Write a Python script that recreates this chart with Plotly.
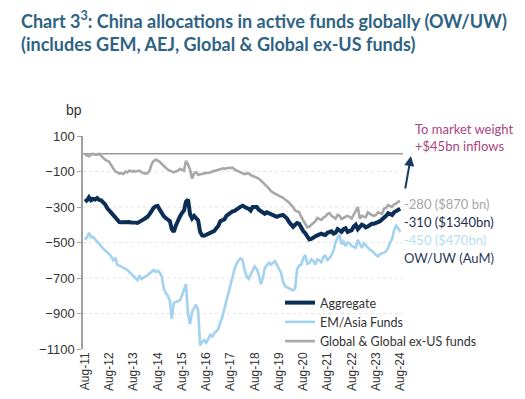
import pandas as pd
import plotly.graph_objects as go

# Monthly observations from Aug-2011 to Aug-2024 (bp, OW/UW)
start_month = "2011-08-01"

aggregate = [
    -270, -262, -245, -262, -255, -258, -250, -260, -262, -272, -285, -306,
    -320, -330, -343, -355, -371, -385, -386, -385, -388, -383, -385, -387,
    -385, -388, -390, -385, -378, -370, -362, -355, -340, -320, -305, -296,
    -294, -315, -335, -352, -362, -370, -380, -425, -440, -405, -375, -355,
    -334, -320, -270, -258, -340, -365, -350, -365, -375, -440, -460, -462,
    -458, -452, -446, -440, -435, -420, -405, -380, -375, -370, -350, -340,
    -334, -325, -322, -312, -305, -298, -293, -296, -305, -310, -320, -300,
    -298, -300, -315, -325, -330, -338, -330, -335, -340, -348, -350, -355,
    -350, -348, -345, -355, -365, -385, -400, -412, -400, -390, -395, -420,
    -435, -448, -470, -483, -480, -470, -465, -460, -456, -450, -455, -458,
    -445, -440, -437, -450, -445, -425, -430, -440, -425, -420, -440, -435,
    -430, -410, -400, -425, -410, -400, -405, -415, -410, -400, -395, -395,
    -392, -385, -380, -371, -360, -350, -335, -340, -345, -330, -322, -315, -310,
]

em_asia = [
    -484, -470, -446, -470, -468, -480, -495, -505, -520, -535, -545, -550,
    -565, -580, -600, -590, -625, -630, -635, -640, -648, -655, -665, -675,
    -685, -700, -712, -690, -705, -695, -690, -685, -675, -660, -655, -665,
    -658, -670, -690, -760, -785, -800, -830, -930, -840, -835, -830, -825,
    -800, -770, -735, -900, -960, -890, -870, -850, -880, -1080, -1060, -1050,
    -1065, -1045, -1020, -1030, -1010, -1000, -985, -950, -920, -875, -830, -780,
    -745, -700, -650, -620, -600, -590, -600, -655, -690, -705, -680, -660,
    -635, -650, -680, -735, -700, -643, -625, -615, -624, -612, -605, -625,
    -645, -670, -720, -746, -752, -758, -765, -770, -760, -650, -630, -625,
    -590, -570, -620, -615, -595, -605, -625, -595, -600, -615, -580, -575,
    -600, -590, -570, -545, -500, -470, -460, -510, -495, -520, -500, -505,
    -520, -525, -530, -485, -510, -530, -505, -515, -530, -540, -545, -560,
    -570, -578, -565, -560, -558, -550, -530, -500, -480, -430, -405, -420, -440,
]

global_funds = [
    -5, -10, -14, -5, 0, -5, -5, 0, -12, -20, -33, -40,
    -45, -65, -85, -100, -105, -112, -110, -114, -100, -105, -95, -100,
    -98, -100, -97, -95, -105, -108, -112, -110, -95, -60, -40, -33,
    -38, -45, -58, -70, -80, -90, -95, -100, -105, -100, -95, -85,
    -90, -95, -40, -60, -90, -140, -110, -105, -118, -115, -110, -108,
    -108, -107, -106, -100, -98, -95, -92, -88, -82, -85, -82, -80,
    -76, -78, -88, -95, -100, -105, -110, -115, -112, -110, -120, -125,
    -130, -135, -140, -150, -160, -172, -185, -195, -210, -220, -225, -230,
    -235, -240, -248, -258, -265, -275, -290, -300, -320, -325, -330, -355,
    -375, -390, -415, -410, -400, -390, -380, -362, -370, -373, -360, -353,
    -340, -335, -350, -358, -365, -345, -350, -368, -360, -355, -350, -355,
    -365, -340, -320, -300, -365, -350, -355, -358, -330, -340, -345, -350,
    -345, -330, -335, -338, -310, -305, -290, -295, -300, -285, -280, -270, -268,
]

tick_dates = [f"{y}-08-01" for y in range(2011, 2025)]
tick_labels = [f"Aug-{str(y)[2:]}" for y in range(2011, 2025)]
y_ticks = [100, -100, -300, -500, -700, -900, -1100]
grid_levels = [-100, -300, -500, -700, -900]

dates = pd.date_range(start_month, periods=len(aggregate), freq="MS")

C_AGG = "#0c2d55"
C_EM = "#a3d2f0"
C_GL = "#a8a8a8"

fig = go.Figure()
fig.add_trace(go.Scatter(x=dates, y=global_funds, mode="lines", name="Global & Global ex-US funds",
                         line=dict(color=C_GL, width=2.6), legendrank=3))
fig.add_trace(go.Scatter(x=dates, y=em_asia, mode="lines", name="EM/Asia Funds",
                         line=dict(color=C_EM, width=2.6), legendrank=2))
fig.add_trace(go.Scatter(x=dates, y=aggregate, mode="lines", name="Aggregate",
                         line=dict(color=C_AGG, width=4), legendrank=1))

shapes = []
for g in grid_levels:
    shapes.append(dict(type="line", xref="paper", x0=0, x1=1, yref="y", y0=g, y1=g,
                       line=dict(color="#e4e4e4", width=1, dash="dot"), layer="below"))
shapes.append(dict(type="line", xref="paper", x0=0, x1=1, yref="y", y0=0, y1=0,
                   line=dict(color="#9a9a9a", width=1.5), layer="below"))

ann_font = "Lato, Open Sans, sans-serif"
PW, PH, L, T = 320, 213, 75, 128


def px(xp):
    return (xp - L) / PW


def py(yp):
    return (T + PH - yp) / PH


annotations = [
    dict(text="<b>Chart 3<sup>3</sup>: China allocations in active funds globally (OW/UW)<br>(includes GEM, AEJ, Global &amp; Global ex-US funds)</b>",
         xref="paper", yref="paper", x=px(11), y=py(-2), xanchor="left", yanchor="top", align="left",
         showarrow=False, font=dict(family=ann_font, size=18, color="#2f6383")),
    dict(text="bp", xref="paper", yref="paper", x=px(66), y=py(102), xanchor="center", yanchor="middle",
         showarrow=False, font=dict(family="Liberation Sans, Arial", size=14, color="#333333")),
    dict(text="To market weight<br>+$45bn inflows", xref="paper", yref="paper", x=px(405), y=py(129),
         xanchor="left", yanchor="middle", align="left", showarrow=False,
         font=dict(family=ann_font, size=13, color="#a8467e")),
    dict(text="", xref="paper", yref="paper", x=px(403), y=py(148), ax=-6, ay=34,
         showarrow=True, arrowhead=2, arrowsize=1, arrowwidth=2, arrowcolor="#173a60"),
    dict(text="-280 ($870 bn)", xref="paper", yref="paper", x=px(394), y=py(196),
         xanchor="left", yanchor="middle", showarrow=False, font=dict(family=ann_font, size=13, color="#a6a6a6")),
    dict(text="-310 ($1340bn)", xref="paper", yref="paper", x=px(394), y=py(214),
         xanchor="left", yanchor="middle", showarrow=False, font=dict(family=ann_font, size=13, color="#1e2d4c")),
    dict(text="-450 ($470bn)", xref="paper", yref="paper", x=px(394), y=py(232),
         xanchor="left", yanchor="middle", showarrow=False, font=dict(family=ann_font, size=13, color="#b6dff0")),
    dict(text="OW/UW (AuM)", xref="paper", yref="paper", x=px(394), y=py(250),
         xanchor="left", yanchor="middle", showarrow=False, font=dict(family=ann_font, size=13, color="#2a3a5c")),
]

fig.update_layout(
    width=525, height=399,
    margin=dict(l=L, r=525 - L - PW, t=T, b=399 - T - PH, autoexpand=False),
    paper_bgcolor="white", plot_bgcolor="white",
    showlegend=True,
    legend=dict(x=px(272), y=py(280), xanchor="left", yanchor="top", bgcolor="rgba(0,0,0,0)",
                font=dict(family=ann_font, size=12.5, color="#333333"), itemwidth=30,
                tracegroupgap=0),
    shapes=shapes,
    annotations=annotations,
    xaxis=dict(range=["2011-07-03", "2024-09-12"], tickvals=tick_dates, ticktext=tick_labels,
               tickangle=-90, showgrid=False, showline=False, zeroline=False, ticks="",
               automargin=False,
               tickfont=dict(family="Liberation Sans, Arial", size=12, color="#333333")),
    yaxis=dict(range=[-1100, 100], tickvals=y_ticks, showgrid=False, zeroline=False,
               showline=True, linecolor="#a0a0a0", linewidth=1.5, ticks="outside", ticklen=4,
               automargin=False,
               tickcolor="#a0a0a0", tickfont=dict(family="Liberation Sans, Arial", size=13, color="#333333")),
)

fig.write_html("out.html")
